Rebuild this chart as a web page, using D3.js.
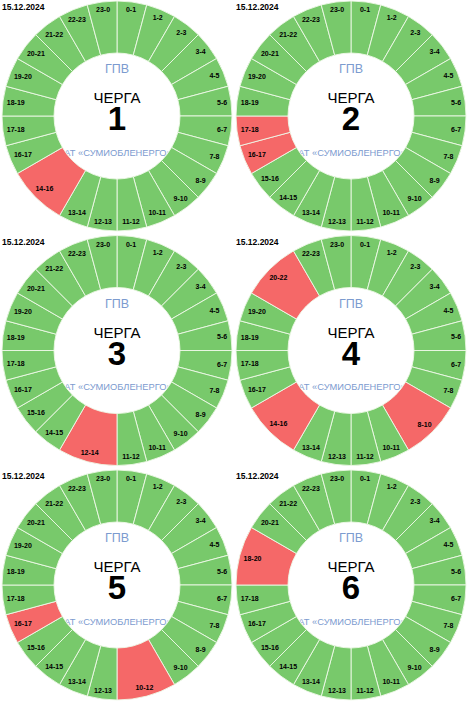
<!DOCTYPE html>
<html>
<head>
<meta charset="utf-8">
<script src="https://cdn.jsdelivr.net/npm/d3@7"></script>
<style>
  body { margin: 0; background: #fff; }
  text { font-family: "Liberation Sans", Arial, sans-serif; }
</style>
</head>
<body>
<div id="chart"></div>
<script>
// schedule for 15.12.2024, hours with outage per queue (start, end)
var dates = ["15.12.2024", "15.12.2024", "15.12.2024", "15.12.2024", "15.12.2024", "15.12.2024"];
var queueNums = [1, 2, 3, 4, 5, 6];
var offQ1 = [[14, 16]];
var offQ2 = [[16, 17], [17, 18]];
var offQ3 = [[12, 14]];
var offQ4 = [[8, 10], [14, 16], [20, 22]];
var offQ5 = [[10, 12], [16, 17]];
var offQ6 = [[18, 20]];
var outages = [offQ1, offQ2, offQ3, offQ4, offQ5, offQ6];
var topText = "ГПВ";
var midText = "ЧЕРГА";
var bottomText = "АТ «СУМИОБЛЕНЕРГО»";

var width = 468, height = 703;
var cellW = 234, cellH = 234.5;
var cx = 117, cy = 116;
var outerR = 115, innerR = 63;

var green = "#78c96b", red = "#f56868", blue = "#7c9bcf";

var svg = d3.select("#chart").append("svg")
    .attr("width", width).attr("height", height);

var angle = d3.scaleLinear().domain([0, 24]).range([0, 2 * Math.PI]);
var arc = d3.arc().innerRadius(innerR).outerRadius(outerR)
    .startAngle(d => angle(d.start)).endAngle(d => angle(d.end));

function buildSegments(off) {
    var segs = [];
    var h = 0;
    while (h < 24) {
        var span = off.find(s => s[0] == h);
        if (span) {
            segs.push({start: span[0], end: span[1], off: true});
            h = span[1];
        } else {
            segs.push({start: h, end: h + 1, off: false});
            h++;
        }
    }
    return segs;
}

queueNums.forEach(function (q, i) {
    var col = i % 2, row = Math.floor(i / 2);
    var cell = svg.append("g")
        .attr("transform", "translate(" + (col * cellW) + "," + (row * cellH) + ")");

    cell.append("text")
        .attr("x", 2).attr("y", 10)
        .attr("font-size", 8.5).attr("font-weight", "bold")
        .text(dates[i]);

    var g = cell.append("g").attr("transform", "translate(" + cx + "," + cy + ")");

    // centre texts go first, ring covers their ends
    g.append("text").attr("y", -43).attr("text-anchor", "middle")
        .attr("font-size", 12.5).attr("fill", blue).text(topText);
    g.append("text").attr("y", -13).attr("text-anchor", "middle")
        .attr("font-size", 15).text(midText);
    g.append("text").attr("y", 14).attr("text-anchor", "middle")
        .attr("font-size", 33).attr("font-weight", "bold").text(q);
    g.append("text").attr("x", 1).attr("y", 39.5).attr("text-anchor", "middle")
        .attr("font-size", 9.3).attr("fill", blue).text(bottomText);

    var segs = buildSegments(outages[i]);

    g.selectAll("path.seg")
        .data(segs)
        .enter().append("path")
        .attr("class", "seg")
        .attr("d", arc)
        .attr("fill", d => d.off ? red : green)
        .attr("stroke", "#eef8e8")
        .attr("stroke-width", 0.9);

    var labels = g.selectAll("text.lbl")
        .data(segs)
        .enter().append("text")
        .attr("class", "lbl")
        .attr("text-anchor", "middle")
        .attr("dy", "0.35em")
        .attr("font-size", 7)
        .attr("font-weight", "bold")
        .text(d => d.start + "-" + (d.end % 24));

    // keep label box inside the outer edge, like datalabels anchor end
    labels.each(function (d) {
        var a = (angle(d.start) + angle(d.end)) / 2;
        var w = this.getComputedTextLength();
        var h = 7;
        var r = 111.5 - (w / 2 * Math.abs(Math.sin(a)) + h / 2 * Math.abs(Math.cos(a)));
        d3.select(this)
            .attr("x", r * Math.sin(a))
            .attr("y", -r * Math.cos(a));
    });
});
</script>
</body>
</html>
